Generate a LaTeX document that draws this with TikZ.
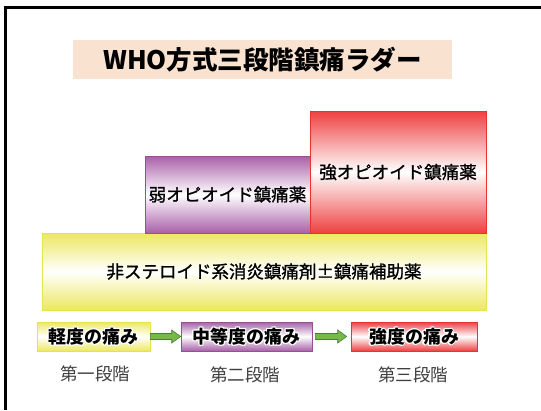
\documentclass[tikz,border=0pt]{standalone}
\usepackage{fontspec}
\setmainfont{Noto Sans CJK JP}
\newfontfamily\jpmed[FakeBold=1.2]{Noto Sans CJK JP}
\usetikzlibrary{calc}
\definecolor{ylw}{RGB}{236,232,96}
\definecolor{ylwd}{RGB}{230,226,80}
\definecolor{prp}{RGB}{168,96,168}
\definecolor{prpd}{RGB}{150,80,150}
\definecolor{rd}{RGB}{238,64,64}
\definecolor{rdd}{RGB}{235,50,50}
\definecolor{peach}{RGB}{250,226,208}
\definecolor{grn}{RGB}{120,184,74}
\definecolor{grnd}{RGB}{70,130,45}
\definecolor{lbl}{RGB}{64,64,64}
\newcommand\halo[1]{\setbox0\hbox{#1}%
  \rlap{\hskip1.2pt\hbox{\color{white}\copy0}}%
  \rlap{\hskip-1.2pt\hbox{\color{white}\copy0}}%
  \rlap{\raise1.2pt\hbox{\color{white}\copy0}}%
  \rlap{\lower1.2pt\hbox{\color{white}\copy0}}%
  \rlap{\hskip0.85pt\raise0.85pt\hbox{\color{white}\copy0}}%
  \rlap{\hskip-0.85pt\raise0.85pt\hbox{\color{white}\copy0}}%
  \rlap{\hskip0.85pt\lower0.85pt\hbox{\color{white}\copy0}}%
  \rlap{\hskip-0.85pt\lower0.85pt\hbox{\color{white}\copy0}}%
  \box0}
\tikzset{
  bigbox/.style={inner sep=0pt, font=\jpmed\fontsize{17.5}{20}\selectfont},
  smallbox/.style={inner sep=0pt, minimum height=29, font=\bfseries\fontsize{18}{20}\selectfont},
  yshade/.style={top color=ylw, bottom color=ylw, middle color=white, draw=ylwd, line width=0.6},
  pshade/.style={top color=prp, bottom color=prp, middle color=white, draw=prpd, line width=0.6},
  rshade/.style={top color=rd, bottom color=rd, middle color=white, draw=rdd, line width=0.6},
  stagelbl/.style={text=lbl, font=\fontsize{17.5}{20}\selectfont},
  blockarrow/.style={fill=grn, draw=grnd, line width=0.6, line join=miter}
}
\begin{document}
\begin{tikzpicture}[x=1pt,y=-1pt]
\useasboundingbox (0,0) rectangle (541,410);
\fill[white] (0,0) rectangle (541,410);
\draw[line width=2.2] (5.5,410) -- (5.5,7.5) -- (541,7.5);
% title
\node[fill=peach, minimum width=379, minimum height=39, inner sep=0pt,
      font=\bfseries\fontsize{25.5}{28}\selectfont] (title) at (262.5,59.5) {WHO方式三段階鎮痛ラダー};
% steps
\node[bigbox, yshade, minimum width=444, minimum height=77] (nsaid) at (264,271.5) {非ステロイド系消炎鎮痛剤±鎮痛補助薬};
\node[bigbox, pshade, minimum width=165, minimum height=77] (weak) at (227.5,194.5) {弱オピオイド鎮痛薬};
\node[bigbox, rshade, minimum width=176, minimum height=122] (strong) at (398,172) {強オピオイド鎮痛薬};
% pain boxes
\node[smallbox, yshade, minimum width=113] (mild) at (93.5,336.5) {\halo{軽度の痛み}};
\node[smallbox, pshade, minimum width=131] (mod) at (246.5,336.5) {\halo{中等度の痛み}};
\node[smallbox, rshade, minimum width=126] (sev) at (414,336.5) {\halo{強度の痛み}};
% arrows
\draw[blockarrow] ($(mild.east)+(0,-3)$) -- ($(mod.west)+(-9,-3)$) -- ($(mod.west)+(-9,-6.5)$)
  -- ($(mod.west)+(0,0)$) -- ($(mod.west)+(-9,6.5)$) -- ($(mod.west)+(-9,3)$) -- ($(mild.east)+(0,3)$) -- cycle;
\draw[blockarrow] ($(mod.east)+(3,-3)$) -- ($(sev.west)+(-13,-3)$) -- ($(sev.west)+(-13,-6.5)$)
  -- ($(sev.west)+(-4,0)$) -- ($(sev.west)+(-13,6.5)$) -- ($(sev.west)+(-13,3)$) -- ($(mod.east)+(3,3)$) -- cycle;
% stage labels
\node[stagelbl] (s1) at (95,374) {第一段階};
\node[stagelbl] (s2) at (245,375) {第二段階};
\node[stagelbl] (s3) at (413,375) {第三段階};
\end{tikzpicture}
\end{document}
